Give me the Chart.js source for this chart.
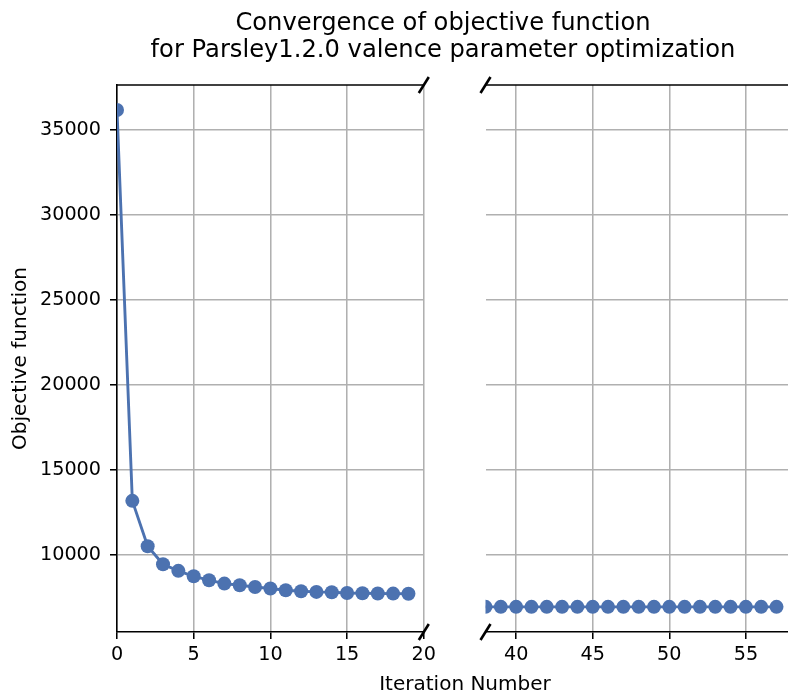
<!DOCTYPE html>
<html>
<head>
<meta charset="utf-8">
<title>Objective function convergence</title>
<script src="https://cdn.jsdelivr.net/npm/chart.js@4.4.1/dist/chart.umd.min.js"></script>
<style>
  html, body { margin: 0; padding: 0; background: #fff; overflow: hidden; }
  #figure { position: relative; width: 788px; height: 691px; overflow: hidden; font-family: 'DejaVu Sans', sans-serif; color: #000; }
  #figure canvas { position: absolute; top: 0; }
  #left-chart { left: 0; }
  #right-chart { left: 470px; }
  .fig-text { position: absolute; text-align: center; white-space: nowrap; }
  #fig-title { left: 143px; width: 600px; top: 9px; font-size: 24.2px; line-height: 27px; }
  #fig-xlabel { left: 265px; width: 400px; top: 672px; font-size: 20px; line-height: 22px; }
</style>
</head>
<body>
<div id="figure">
  <canvas id="left-chart" width="440" height="691"></canvas>
  <canvas id="right-chart" width="325" height="691"></canvas>
  <div id="fig-title" class="fig-text">Convergence of objective function<br>for Parsley1.2.0 valence parameter optimization</div>
  <div id="fig-xlabel" class="fig-text">Iteration Number</div>
</div>
<script>
// Early iterations (left panel)
const ITERATIONS_EARLY = [0, 1, 2, 3, 4, 5, 6, 7, 8, 9, 10, 11, 12, 13, 14, 15, 16, 17, 18, 19];
const OBJECTIVE_EARLY = [36180, 13170, 10500, 9440, 9050, 8730, 8500, 8300, 8200, 8100,
  8010, 7910, 7850, 7810, 7790, 7750, 7730, 7720, 7710, 7700];

// Late iterations (right panel)
const ITERATIONS_LATE = [38, 39, 40, 41, 42, 43, 44, 45, 46, 47, 48, 49, 50, 51, 52, 53, 54, 55, 56, 57];
const OBJECTIVE_LATE = [6930, 6930, 6930, 6930, 6930, 6930, 6930, 6930, 6930, 6930,
  6930, 6930, 6930, 6930, 6930, 6930, 6930, 6930, 6930, 6930];

const X_TICKS_EARLY = [0, 5, 10, 15, 20];
const X_TICKS_LATE = [40, 45, 50, 55];
const Y_TICKS = [10000, 15000, 20000, 25000, 30000, 35000];

const X_RANGE_EARLY = [0, 20];
const X_RANGE_LATE = [38, 57.75];
const Y_RANGE = [5450, 37650];

const BLUE = '#4c72b0';
const GRID = '#b0b0b0';
const LINE_W = 1.55;

Chart.defaults.font.family = 'DejaVu Sans';
Chart.defaults.font.size = 19.2;
Chart.defaults.color = '#000';

/**
 * Draws the top spine and the diagonal break marks on the broken edge.
 */
const brokenAxisPlugin = {
  id: 'brokenAxis',
  afterDraw(chart, args, opts) {
    const { ctx } = chart;
    const { left, right, top, bottom } = chart.chartArea;
    ctx.save();
    ctx.strokeStyle = '#000';
    ctx.lineWidth = LINE_W;
    ctx.beginPath();
    ctx.moveTo(left, top);
    ctx.lineTo(right, top);
    ctx.stroke();

    const x = opts.side === 'right' ? right : left;
    ctx.lineWidth = 2.6;
    [top, bottom].forEach((y) => {
      ctx.beginPath();
      ctx.moveTo(x - 5, y + 8);
      ctx.lineTo(x + 5, y - 8);
      ctx.stroke();
    });
    ctx.restore();
  },
};

/**
 * Builds one panel of the broken x axis.
 * @param {string} canvasId Id of the canvas element.
 * @param {number[]} iterations x values.
 * @param {number[]} values y values.
 * @param {number[]} xRange [min, max] of the x axis.
 * @param {number[]} xTicks Tick values of the x axis.
 * @param {boolean} isLeft Whether this is the panel carrying the y axis.
 */
function buildPanel(canvasId, iterations, values, xRange, xTicks, isLeft) {
  const ctx = document.getElementById(canvasId).getContext('2d');
  return new Chart(ctx, {
    type: 'line',
    data: {
      datasets: [{
        data: iterations.map((x, i) => ({ x, y: values[i] })),
        borderColor: BLUE,
        backgroundColor: BLUE,
        borderWidth: 2.9,
        pointRadius: 7,
        pointHoverRadius: 7,
        pointBorderWidth: 0,
        pointBackgroundColor: BLUE,
        tension: 0,
        clip: 0,
      }],
    },
    options: {
      responsive: false,
      animation: false,
      devicePixelRatio: 1,
      events: [],
      layout: {
        padding: isLeft
          ? { top: 85, right: 16, bottom: 0, left: 0 }
          : { top: 85, right: 0, bottom: 0, left: 15.5 },
      },
      plugins: {
        legend: { display: false },
        tooltip: { enabled: false },
        brokenAxis: { side: isLeft ? 'right' : 'left' },
      },
      scales: {
        x: {
          type: 'linear',
          min: xRange[0],
          max: xRange[1],
          afterBuildTicks: (scale) => { scale.ticks = xTicks.map((v) => ({ value: v })); },
          afterFit: (scale) => { scale.height = 59; },
          ticks: { padding: 4, maxRotation: 0, callback: (v) => String(v) },
          grid: { color: GRID, lineWidth: LINE_W, tickColor: '#000', tickWidth: LINE_W, tickLength: 7 },
          border: { display: true, color: '#000', width: LINE_W },
        },
        y: {
          type: 'linear',
          min: Y_RANGE[0],
          max: Y_RANGE[1],
          afterBuildTicks: (scale) => { scale.ticks = Y_TICKS.map((v) => ({ value: v })); },
          afterFit: (scale) => { scale.width = isLeft ? 117 : 0; },
          ticks: { display: isLeft, padding: 9, callback: (v) => String(v) },
          grid: {
            color: GRID, lineWidth: LINE_W, tickColor: '#000', tickWidth: LINE_W, tickLength: 7, drawTicks: isLeft,
          },
          border: { display: isLeft, color: '#000', width: LINE_W },
          title: {
            display: isLeft,
            text: 'Objective function',
            font: { size: 20 },
            padding: { top: 9, bottom: 0 },
          },
        },
      },
    },
    plugins: [brokenAxisPlugin],
  });
}

buildPanel('left-chart', ITERATIONS_EARLY, OBJECTIVE_EARLY, X_RANGE_EARLY, X_TICKS_EARLY, true);
buildPanel('right-chart', ITERATIONS_LATE, OBJECTIVE_LATE, X_RANGE_LATE, X_TICKS_LATE, false);
</script>
</body>
</html>
